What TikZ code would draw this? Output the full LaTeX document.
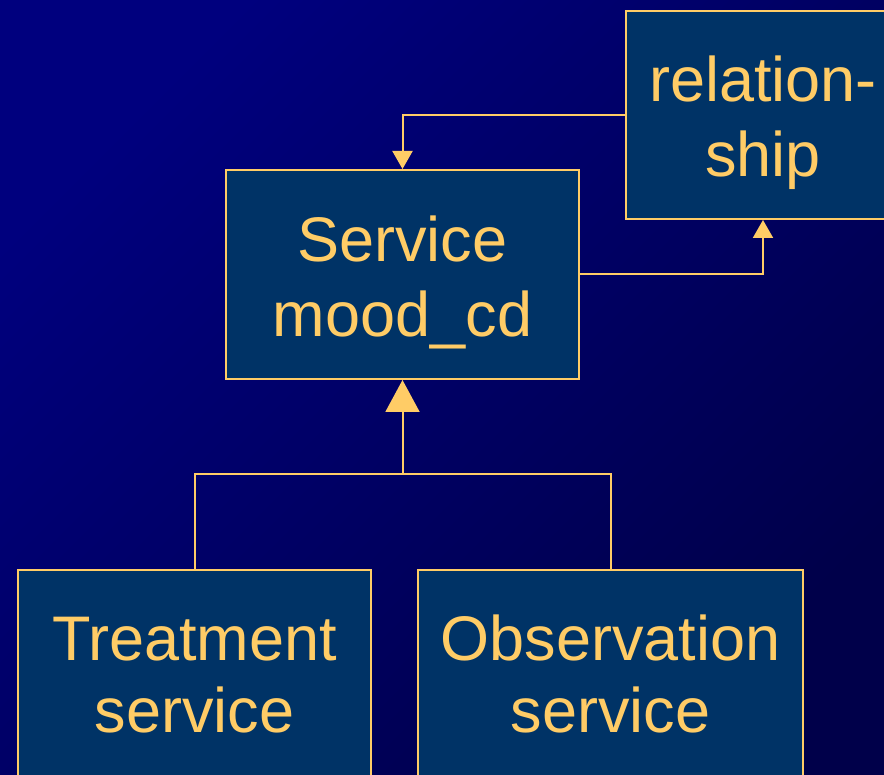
\documentclass[tikz,border=0pt]{standalone}
\usepackage{fontspec}
\setmainfont{Liberation Sans}
\usetikzlibrary{arrows.meta}
\definecolor{bgtop}{RGB}{0,0,126}
\definecolor{bgmid}{RGB}{0,0,94}
\definecolor{bgbot}{RGB}{0,0,74}
\definecolor{boxfill}{RGB}{0,51,102}
\definecolor{gold}{RGB}{255,204,102}
\tikzset{
  classbox/.style={draw=gold, fill=boxfill, line width=2pt, rectangle, inner sep=0pt},
  boxtext/.style={text=gold, anchor=base, inner sep=0pt, font=\fontsize{63}{72}\selectfont},
  link/.style={draw=gold, line width=2pt},
  assoc/.style={link, -{Triangle[width=20pt,length=18pt]}},
  inherit/.style={link, -{Triangle[width=34pt,length=32pt]}},
}
\begin{document}
\begin{tikzpicture}[x=1pt,y=-1pt]
  \useasboundingbox (0,0) rectangle (884,775);
  \clip (0,0) rectangle (884,775);
  % diagonal background: light navy top left, darker towards bottom right
  \shade[shading=axis, top color=bgtop, middle color=bgmid, bottom color=bgbot, shading angle=45]
    (0,0) rectangle (884,775);

  % class boxes
  \node[classbox, minimum width=274pt, minimum height=208pt] (rel) at (763,115) {};
  \node[classbox, minimum width=353pt, minimum height=209pt] (svc) at (402.5,274.5) {};
  \node[classbox, minimum width=353pt, minimum height=240pt] (trt) at (194.5,690) {};
  \node[classbox, minimum width=385pt, minimum height=240pt] (obs) at (610.5,690) {};

  % labels
  \node[boxtext] (rel1) at (763,102) {relation-};
  \node[boxtext] (rel2) at (763,177) {ship};
  \node[boxtext] (svc1) at (402.5,262) {Service};
  \node[boxtext] (svc2) at (402.5,337) {mood\_cd};
  \node[boxtext] (trt1) at (194.5,660) {Treatment};
  \node[boxtext] (trt2) at (194.5,732) {service};
  \node[boxtext] (obs1) at (610.5,660) {Observation};
  \node[boxtext] (obs2) at (610.5,732) {service};

  % associations
  \draw[assoc] (rel.west) -| (svc.north);
  \draw[assoc] (svc.east) -| (rel.south);

  % generalisation
  \coordinate (j) at (402.5,474);
  \draw[link] (trt.north) |- (j) -| (obs.north);
  \draw[inherit] (j) -- (svc.south);
\end{tikzpicture}
\end{document}
